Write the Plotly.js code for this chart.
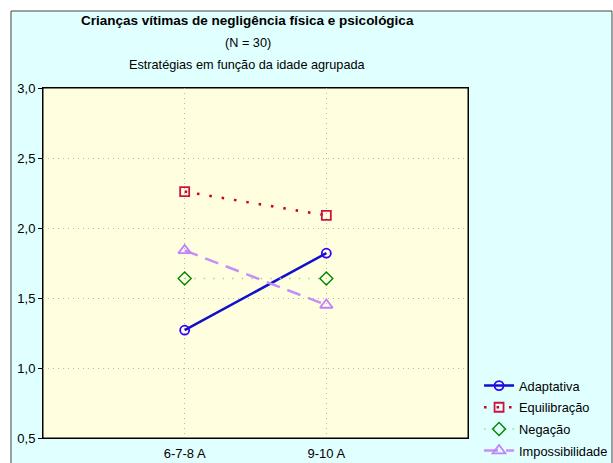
<!DOCTYPE html>
<html>
<head>
<meta charset="utf-8">
<script src="https://cdn.plot.ly/plotly-3.0.1.min.js"></script>
<style>html,body{margin:0;padding:0;background:#fff;}#chart{width:613px;height:463px;}</style>
</head>
<body>
<div id="chart"></div>
<script>
var categories = ["6-7-8 A", "9-10 A"];
var seriesNames = ["Adaptativa", "Equilibração", "Negação", "Impossibilidade"];
var adaptativa = [1.27, 1.82];
var equilibracao = [2.26, 2.09];
var negacao = [1.64, 1.64];
var impossibilidade = [1.84, 1.45];
var yTicks = [0.5, 1.0, 1.5, 2.0, 2.5, 3.0];

var font = "Liberation Sans, Arial, sans-serif";

var traces = [
  {x: categories, y: adaptativa, name: seriesNames[0], legendgroup: "a", mode: "lines+markers",
   line: {color: "#1010cc", width: 2.5},
   marker: {symbol: "circle-open", size: 9, color: "#3300ff", line: {width: 1.8}}},
  {x: categories, y: equilibracao, name: seriesNames[1], legendgroup: "b", mode: "lines+markers",
   line: {color: "#cc0010", width: 2.5, dash: "2.5px,10px"},
   marker: {symbol: "square-open", size: 9, color: "#cc1444", line: {width: 1.8}}},
  {x: categories, y: negacao, name: seriesNames[2], legendgroup: "c", mode: "lines+markers",
   line: {color: "#98d898", width: 1.5, dash: "1.5px,8px"},
   marker: {symbol: "diamond-open", size: 10, color: "#008800", line: {width: 1.4}}},
  {x: categories, y: impossibilidade, name: seriesNames[3], legendgroup: "d", mode: "lines+markers",
   line: {color: "#c490f8", width: 2.5, dash: "14px,8px"},
   marker: {symbol: "triangle-up-open", size: 11, color: "#c080ff", line: {width: 1.8}}}
];

var layout = {
  width: 613, height: 463,
  margin: {l: 43, r: 145, t: 88, b: 25, pad: 0, autoexpand: false},
  paper_bgcolor: "#ffffff",
  plot_bgcolor: "rgba(0,0,0,0)",
  font: {family: font, size: 13, color: "#000"},
  showlegend: true,
  legend: {x: 1.026, y: 0.192, xanchor: "left", yanchor: "top", bgcolor: "rgba(0,0,0,0)",
           font: {family: font, size: 12.8, color: "#000"}, itemwidth: 30, tracegroupgap: 2},
  xaxis: {
    type: "category", range: [-1, 2], showgrid: true, gridcolor: "#b8b8a8", griddash: "1px,4px", gridwidth: 1,
    showline: true, linecolor: "#000", linewidth: 1, mirror: true, ticks: "", ticklabelstandoff: 3,
    tickfont: {family: font, size: 13, color: "#000"}, zeroline: false, fixedrange: true
  },
  yaxis: {
    range: [0.5, 3.0], tickvals: yTicks, tickformat: ".1f", showgrid: true, gridcolor: "#b8b8a8", griddash: "1px,4px", gridwidth: 1,
    showline: true, linecolor: "#000", linewidth: 1, mirror: true, ticks: "outside", ticklen: 4, tickcolor: "#000",
    tickfont: {family: font, size: 13, color: "#000"}, zeroline: false, fixedrange: true
  },
  separators: ",.",
  shapes: [
    {type: "rect", xref: "paper", yref: "paper", x0: -0.0753, x1: 1.3388, y0: -0.2, y1: 1.22,
     fillcolor: "#e0ffff", line: {color: "#444", width: 1}, layer: "below"},
    {type: "rect", xref: "paper", yref: "paper", x0: 0, x1: 1, y0: 0, y1: 1,
     fillcolor: "#ffffe0", line: {color: "#000", width: 1}, layer: "below"}
  ],
  annotations: [
    {text: "<b>Crianças vítimas de negligência física e psicológica</b>", xref: "paper", yref: "paper",
     x: 0.482, y: 1.194, showarrow: false, xanchor: "center", yanchor: "middle", font: {family: font, size: 13.5}},
    {text: "(N = 30)", xref: "paper", yref: "paper",
     x: 0.482, y: 1.129, showarrow: false, xanchor: "center", yanchor: "middle", font: {family: font, size: 12.7}},
    {text: "Estratégias em função da idade agrupada", xref: "paper", yref: "paper",
     x: 0.482, y: 1.066, showarrow: false, xanchor: "center", yanchor: "middle", font: {family: font, size: 12.7}}
  ]
};

Plotly.newPlot("chart", traces, layout, {displayModeBar: false, staticPlot: true});
</script>
</body>
</html>
